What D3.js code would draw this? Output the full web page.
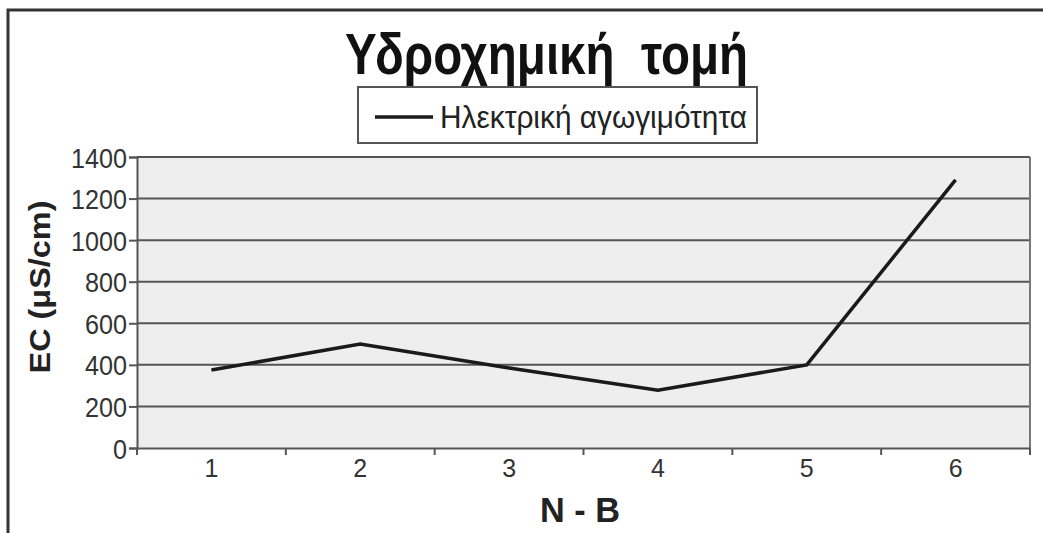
<!DOCTYPE html>
<html><head><meta charset="utf-8">
<script src="https://cdn.jsdelivr.net/npm/d3@7"></script>
<style>body{margin:0;background:#fff}svg{display:block}</style>
</head><body>
<svg id="c" width="1043" height="533"></svg>
<script>
const categories = ["1","2","3","4","5","6"];
const ecValues = [375, 500, 385, 278, 400, 1290];
const yTicks = [0,200,400,600,800,1000,1200,1400];
const titleText = "Υδροχημική  τομή";
const seriesName = "Ηλεκτρική αγωγιμότητα";
const yLabel = "EC (μS/cm)";
const xLabel = "N - B";

const svg = d3.select("#c");
const font = "'Liberation Sans',Arial,sans-serif";
const L=137,R=1030,T=157,B=448;

// outer frame
svg.append("path").attr("d","M8,533 L8,10 L1043,10").attr("fill","none").attr("stroke","#333").attr("stroke-width",3);

const x = d3.scaleBand().domain(categories).range([L,R]);
const y = d3.scaleLinear().domain([0,1400]).range([B,T]);

svg.append("rect").attr("x",L).attr("y",T).attr("width",R-L).attr("height",B-T).attr("fill","#eeeeee");

// gridlines
svg.append("g").selectAll("line").data(yTicks.filter(d=>d>0)).join("line")
  .attr("x1",L).attr("x2",R).attr("y1",d=>y(d)).attr("y2",d=>y(d))
  .attr("stroke","#555").attr("stroke-width",2);
// right border
svg.append("line").attr("x1",R).attr("x2",R).attr("y1",T).attr("y2",B).attr("stroke","#777").attr("stroke-width",2);

// y axis
const ya = svg.append("g").attr("transform",`translate(${L},0)`)
  .call(d3.axisLeft(y).tickValues(yTicks).tickFormat(d3.format("d")).tickSize(8).tickPadding(2));
ya.select(".domain").attr("stroke","#555").attr("stroke-width",2);
ya.selectAll(".tick line").attr("stroke","#555").attr("stroke-width",2);
ya.selectAll("text").attr("font-family",font).attr("font-size",28).attr("fill","#333")
  .attr("dy","0.36em")
  .attr("textLength",d=>String(d).length*14).attr("lengthAdjust","spacingAndGlyphs");

// x axis
const xa = svg.append("g").attr("transform",`translate(0,${B})`)
  .call(d3.axisBottom(x).tickSize(0).tickPadding(11));
xa.select(".domain").attr("stroke","#555").attr("stroke-width",2);
xa.selectAll("text").attr("font-family",font).attr("font-size",25).attr("fill","#333");
// boundary ticks
const bounds = categories.map(c=>x(c)).concat([R]);
svg.append("g").selectAll("line").data(bounds).join("line")
  .attr("x1",d=>d).attr("x2",d=>d).attr("y1",B).attr("y2",B+7)
  .attr("stroke","#555").attr("stroke-width",2);

// line
const line = d3.line().x((d,i)=>x(categories[i])+x.bandwidth()/2).y(d=>y(d));
svg.append("path").datum(ecValues).attr("d",line).attr("fill","none")
  .attr("stroke","#1a1a1a").attr("stroke-width",3.5);

// title
svg.append("text").attr("x",345).attr("y",74)
  .attr("font-family",font).attr("font-weight","bold").attr("font-size",58).attr("fill","#111")
  .attr("textLength",403).attr("lengthAdjust","spacingAndGlyphs")
  .style("white-space","pre").text(titleText);

// legend
svg.append("rect").attr("x",358).attr("y",87).attr("width",399).attr("height",56)
  .attr("fill","#fff").attr("stroke","#555").attr("stroke-width",2);
svg.append("line").attr("x1",375).attr("x2",433).attr("y1",117).attr("y2",117)
  .attr("stroke","#1a1a1a").attr("stroke-width",3.5);
svg.append("text").attr("x",440).attr("y",128).attr("font-family",font).attr("font-size",32).attr("fill","#222")
  .attr("textLength",307).attr("lengthAdjust","spacingAndGlyphs").text(seriesName);

// axis titles
svg.append("text").attr("transform","translate(50,287) rotate(-90)").attr("text-anchor","middle")
  .attr("font-family",font).attr("font-weight","bold").attr("font-size",30).attr("fill","#222")
  .attr("textLength",173).attr("lengthAdjust","spacingAndGlyphs").text(yLabel);
svg.append("text").attr("x",580).attr("y",522).attr("text-anchor","middle")
  .attr("font-family",font).attr("font-weight","bold").attr("font-size",35).attr("fill","#222")
  .attr("textLength",80).attr("lengthAdjust","spacingAndGlyphs").text(xLabel);
</script>
</body></html>
